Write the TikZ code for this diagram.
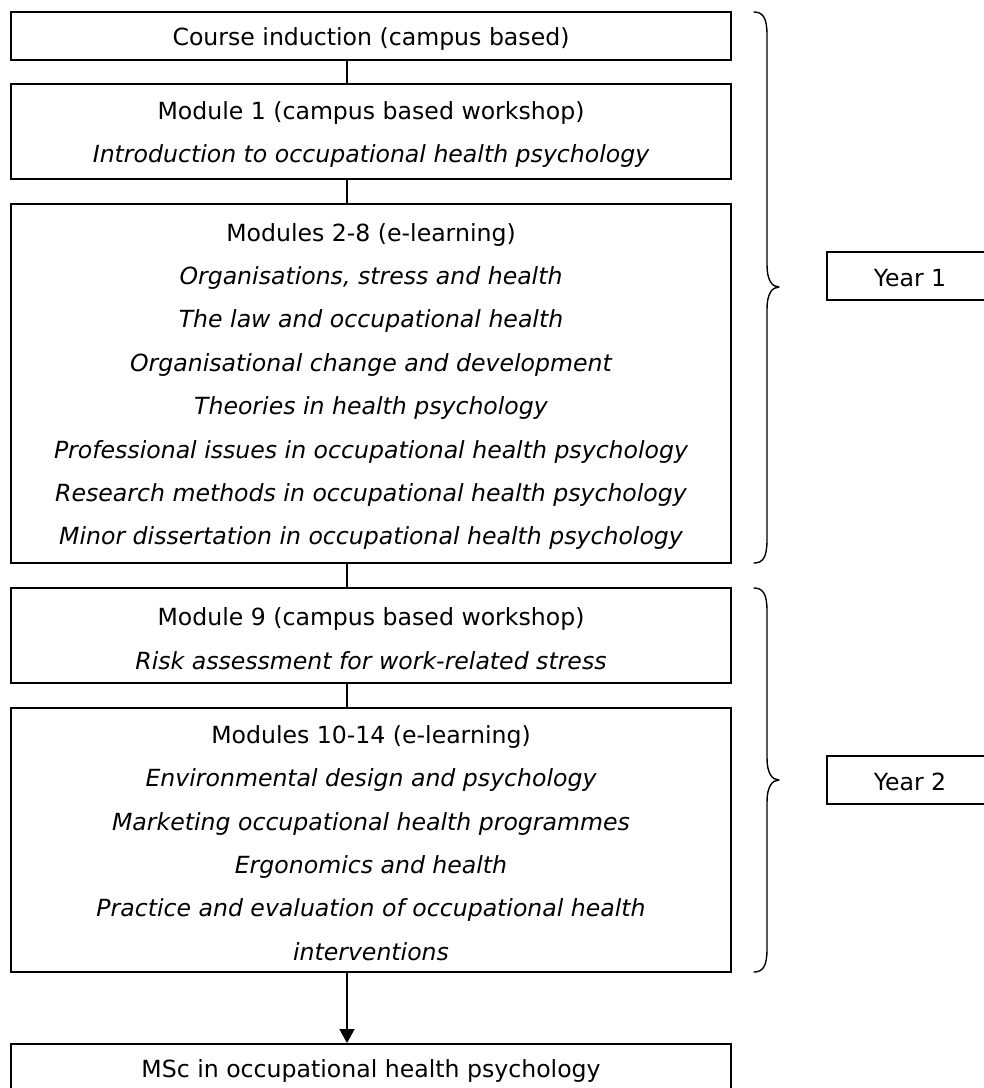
\documentclass[tikz,border=0pt]{standalone}
\usepackage{fontspec}
\setmainfont{DejaVu Sans}
\usetikzlibrary{arrows.meta}
\begin{document}
\begin{tikzpicture}[x=1pt,y=-1pt,
  box/.style={draw,line width=1.8pt,minimum width=720pt,inner sep=0pt},
  txt/.style={inner sep=0pt,align=center,font=\fontsize{23.6}{43.4}\selectfont},
  yearbox/.style={draw,line width=1.8pt,minimum width=166pt,minimum height=48pt,inner sep=0pt},
  conn/.style={line width=1.3pt},
  bracepath/.style={line width=1.4pt,line cap=round,line join=round}]
\useasboundingbox (0,0) rectangle (984,1088);
\clip (0,0) rectangle (984,1088);
\fill[white] (0,0) rectangle (984,1088);
\coordinate (cx) at (347,0);

\node[box,minimum height=48pt] (b1) at (371,36) {};
\node[txt] (b1t) at ([yshift=-3pt]b1.center) {Course induction (campus based)};
\node[box,minimum height=95pt] (b2) at (371,131.5) {};
\node[txt] (b2t) at ([yshift=-3pt]b2.center) {Module 1 (campus based workshop)\\
  {\itshape Introduction to occupational health psychology}};
\node[box,minimum height=359pt] (b3) at (371,383.5) {};
\node[txt] (b3t) at ([yshift=-3pt]b3.center) {Modules 2-8 (e-learning)\\
  {\itshape Organisations, stress and health}\\
  {\itshape The law and occupational health}\\
  {\itshape Organisational change and development}\\
  {\itshape Theories in health psychology}\\
  {\itshape Professional issues in occupational health psychology}\\
  {\itshape Research methods in occupational health psychology}\\
  {\itshape Minor dissertation in occupational health psychology}};
\node[box,minimum height=95pt] (b4) at (371,635.5) {};
\node[txt] (b4t) at ([yshift=-3pt]b4.center) {Module 9 (campus based workshop)\\
  {\itshape Risk assessment for work-related stress}};
\node[box,minimum height=264pt] (b5) at (371,840) {};
\node[txt] (b5t) at ([yshift=-3pt]b5.center) {Modules 10-14 (e-learning)\\
  {\itshape Environmental design and psychology}\\
  {\itshape Marketing occupational health programmes}\\
  {\itshape Ergonomics and health}\\
  {\itshape Practice and evaluation of occupational health}\\
  {\itshape interventions}};
\node[box,minimum height=52pt] (b6) at (371,1070) {};
\node[txt] (b6t) at ([yshift=-1pt]b6.center) {MSc in occupational health psychology};

\node[yearbox] (y1) at (910,276) {};
\node[txt] (y1t) at ([yshift=-2pt]y1.center) {Year 1};
\node[yearbox] (y2) at (910,780) {};
\node[txt] (y2t) at ([yshift=-2pt]y2.center) {Year 2};

\draw[conn] (b1.south -| cx) -- (b2.north -| cx);
\draw[conn] (b2.south -| cx) -- (b3.north -| cx);
\draw[conn] (b3.south -| cx) -- (b4.north -| cx);
\draw[conn] (b4.south -| cx) -- (b5.north -| cx);
\draw[conn,-{Triangle[width=15pt,length=14pt]}] (b5.south -| cx) -- (b6.north -| cx);

% braces
\draw[bracepath] (754,12) .. controls (763,12) and (767,18) .. (767,35) -- (767,265)
  .. controls (767,280) and (772,287) .. (779,287)
  .. controls (772,287) and (767,294) .. (767,309) -- (767,540)
  .. controls (767,557) and (763,563) .. (754,563);
\draw[bracepath] (754,588) .. controls (763,588) and (767,594) .. (767,611) -- (767,758)
  .. controls (767,773) and (772,780) .. (779,780)
  .. controls (772,780) and (767,787) .. (767,802) -- (767,949)
  .. controls (767,966) and (763,972) .. (754,972);
\end{tikzpicture}
\end{document}
